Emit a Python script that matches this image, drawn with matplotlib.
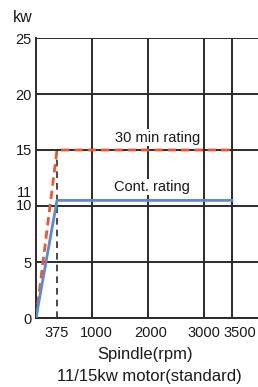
import matplotlib
matplotlib.use("Agg")
import matplotlib.pyplot as plt
from matplotlib.transforms import ScaledTranslation

plt.rcParams['font.family'] = ['Liberation Sans', 'DejaVu Sans']

# Data
rpm_30min = [0, 375, 3500]
kw_30min = [0, 15, 15]
rpm_cont = [0, 375, 3500]
kw_cont = [0, 10.5, 10.5]
base_speed = 375
x_ticks = [375, 1000, 2000, 3000, 3500]
x_grid = [1000, 2000, 3000, 3500]
y_ticks = [0, 5, 10, 11, 15, 20, 25]
y_grid = [0, 5, 10, 15, 20, 25]

fig = plt.figure(figsize=(2.58, 3.87), dpi=100)
ax = fig.add_axes([36/258, (387-318)/387, 224/258, 280/387])
ax.set_xlim(0, 4000)
ax.set_ylim(0, 25)

gc = '#2a2a2a'
for x in x_grid:
    ax.axvline(x, color=gc, lw=1.4, zorder=1)
for y in y_grid:
    ax.axhline(y, color=gc, lw=1.4, zorder=1)
ax.plot([base_speed, base_speed], [0, 15], color=gc, lw=1.2, ls=(0, (4, 3)), zorder=1)

ax.plot(rpm_30min, kw_30min, color='#f0562e', lw=2, ls=(0, (3, 1.8)), zorder=3)
ax.plot(rpm_cont, kw_cont, color='#5a8ad6', lw=2, zorder=3)

ax.text(2165, 16.1, '30 min rating', fontsize=10.5, ha='center', va='center',
        color='#1a1a1a', bbox=dict(facecolor='white', edgecolor='none', pad=1), zorder=2)
ax.text(2070, 11.7, 'Cont. rating', fontsize=10.5, ha='center', va='center',
        color='#1a1a1a', bbox=dict(facecolor='white', edgecolor='none', pad=1), zorder=2)

ax.set_xticks(x_ticks)
ax.set_xticklabels([str(v) for v in x_ticks])
ax.set_yticks(y_ticks)
ax.set_yticklabels([str(v) for v in y_ticks])
ax.tick_params(axis='both', length=0, labelsize=10.5, colors='#1a1a1a')
ax.tick_params(axis='x', pad=6)
ax.tick_params(axis='y', pad=3)

# small label nudges (pixels)
x_nudge = {375: 0, 1000: 4, 2000: 3, 3000: 0, 3500: 8}
for lbl, v in zip(ax.get_xticklabels(), x_ticks):
    lbl.set_transform(lbl.get_transform() + ScaledTranslation(x_nudge[v] / 100, 0, fig.dpi_scale_trans))
y_nudge = {11: 3, 10: 1}
for lbl, v in zip(ax.get_yticklabels(), y_ticks):
    if v in y_nudge:
        lbl.set_transform(lbl.get_transform() + ScaledTranslation(0, y_nudge[v] / 100, fig.dpi_scale_trans))

for s in ['top', 'right']:
    ax.spines[s].set_visible(False)
ax.spines['left'].set_color(gc)
ax.spines['left'].set_linewidth(1.4)
ax.spines['bottom'].set_color(gc)
ax.spines['bottom'].set_linewidth(1.4)

fig.text(23/258, 1 - 18/387, 'kw', fontsize=11.5, ha='center', va='center', color='#1a1a1a')
fig.text(145/258, 1 - 355/387, 'Spindle(rpm)', fontsize=12, ha='center', va='center', color='#1a1a1a')
fig.text(149/258, 1 - 377/387, '11/15kw motor(standard)', fontsize=12, ha='center', va='center', color='#1a1a1a')

fig.savefig('out.png', dpi=100)
